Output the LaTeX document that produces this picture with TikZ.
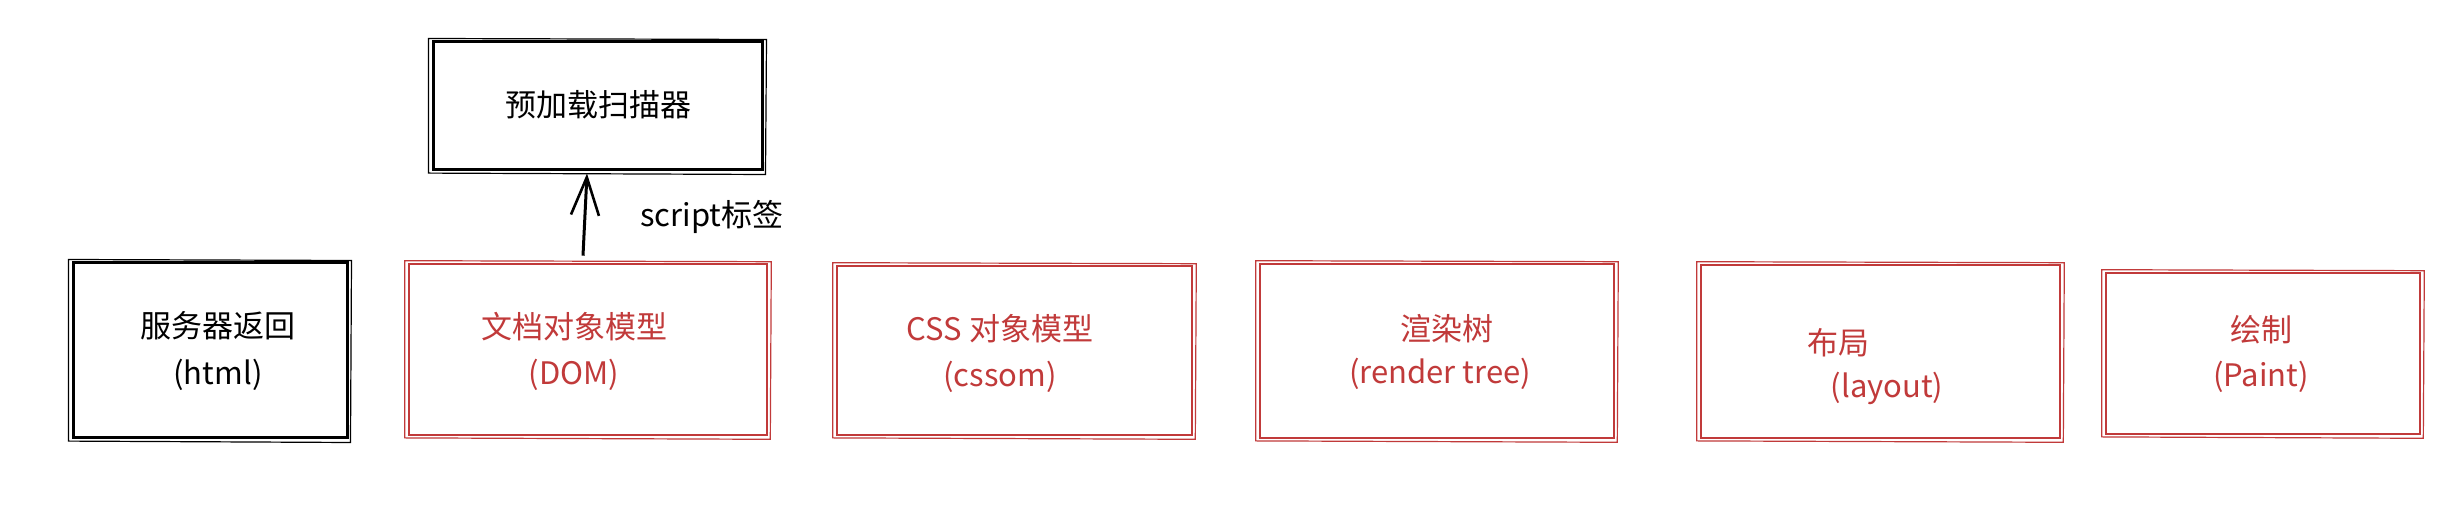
\documentclass[tikz,border=0pt]{standalone}
\usepackage{fontspec}
\setmainfont{Noto Sans CJK SC}
\usetikzlibrary{arrows.meta}
\definecolor{exred}{HTML}{C13A3A}
\newcommand\roughbox[2]{\draw[#2, line width=0.6pt] ([shift={(-1.5pt,1pt)}]#1.north west) -- ([shift={(1.5pt,0.5pt)}]#1.north east) -- ([shift={(1pt,-1.5pt)}]#1.south east) -- ([shift={(-1.5pt,-0.8pt)}]#1.south west) -- cycle;}
\begin{document}
\begin{tikzpicture}[x=0.5pt,y=-0.5pt,
  blackbox/.style={draw=black, line width=1.5pt, inner sep=0pt},
  redbox/.style={draw=exred, line width=1.3pt, inner sep=0pt},
  lbl/.style={inner sep=0pt, font=\fontsize{15.5}{18}\selectfont},
  redlbl/.style={lbl, text=exred},
  arr/.style={-{Straight Barb[length=19pt,width=14pt,line width=1.3pt]}, line width=1.5pt, black}]
\fill[white] (0,0) rectangle (2458,522);
\useasboundingbox (0,0) rectangle (2458,522);
% boxes
\node[blackbox, minimum width=137pt, minimum height=87.5pt] (html) at (210,350.5) {};
\node[redbox, minimum width=179pt, minimum height=85.5pt] (dom) at (588,349.5) {};
\node[redbox, minimum width=177.5pt, minimum height=84.5pt] (css) at (1014.5,350.5) {};
\node[redbox, minimum width=177pt, minimum height=87pt] (rt) at (1437,351) {};
\node[redbox, minimum width=179.5pt, minimum height=86.5pt] (lay) at (1880.5,351.5) {};
\node[redbox, minimum width=157pt, minimum height=80.5pt] (paint) at (2263,353.5) {};
\node[blackbox, minimum width=164.5pt, minimum height=64pt] (pre) at (597.5,106) {};
\roughbox{html}{black}
\roughbox{dom}{exred}
\roughbox{css}{exred}
\roughbox{rt}{exred}
\roughbox{lay}{exred}
\roughbox{paint}{exred}
\roughbox{pre}{black}
% labels
\node[lbl] (htmla) at (218,326) {服务器返回};
\node[lbl] (htmlb) at (218,375) {(html)};
\node[redlbl] (doma) at (574,327) {文档对象模型};
\node[redlbl] (domb) at (574,375) {(DOM)};
\node[redlbl] (cssa) at (1000,329) {CSS 对象模型};
\node[redlbl] (cssb) at (1000,377) {(cssom)};
\node[redlbl] (rta) at (1447,329) {渲染树};
\node[redlbl] (rtb) at (1440,374) {(render tree)};
\node[redlbl] (laya) at (1838,343) {布局};
\node[redlbl] (layb) at (1887,388) {(layout)};
\node[redlbl] (painta) at (2261,330) {绘制};
\node[redlbl] (paintb) at (2261,377) {(Paint)};
\node[lbl] (prea) at (598,105) {预加载扫描器};
\node[lbl] (scr) at (712,217) {script标签};
% arrow
\draw[arr] ([xshift=-2.5pt,yshift=3.5pt]dom.north) -- ([xshift=-5.25pt,yshift=-1pt]pre.south);
\end{tikzpicture}
\end{document}
